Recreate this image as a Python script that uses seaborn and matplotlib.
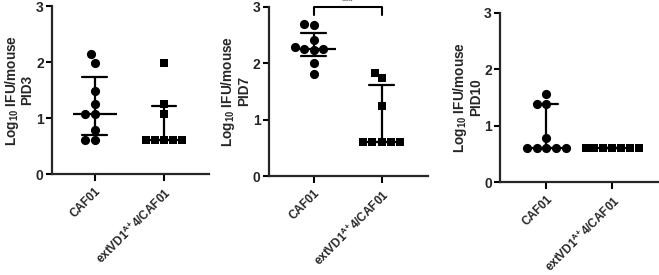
"""
Log10 IFU/mouse at PID3, PID7 and PID10 for two vaccine groups,
scatter with median and interquartile range.
"""
import warnings
import numpy as np
import pandas as pd
import matplotlib
matplotlib.use("Agg")
import matplotlib.pyplot as plt
import seaborn as sns

warnings.filterwarnings("ignore")

groups = ["CAF01", r"extVD1$^{\mathbf{A}{+}}$4/CAF01"]
days = ["PID3", "PID7", "PID10"]

pid3_caf01 = [2.14, 1.99, 1.48, 1.26, 1.08, 1.08, 0.78, 0.60, 0.60]
pid3_ext = [1.98, 1.26, 1.08, 0.60, 0.60, 0.60, 0.60, 0.60]
pid7_caf01 = [2.69, 2.67, 2.42, 2.26, 2.28, 2.24, 2.26, 2.00, 1.81]
pid7_ext = [1.83, 1.73, 1.25, 0.60, 0.60, 0.60, 0.60, 0.60]
pid10_caf01 = [1.56, 1.38, 1.38, 0.79, 0.60, 0.60, 0.60, 0.60, 0.60]
pid10_ext = [0.60, 0.60, 0.60, 0.60, 0.60, 0.60, 0.60, 0.60]

panel_data = [(pid3_caf01, pid3_ext), (pid7_caf01, pid7_ext), (pid10_caf01, pid10_ext)]

# axes rectangles in figure fractions (left, bottom, width, height)
rects = [(0.079, 0.367, 0.238, 0.611),
         (0.408, 0.360, 0.241, 0.615),
         (0.759, 0.338, 0.240, 0.615)]
xlims = [(-0.62, 1.65), (-0.66, 1.68), (-0.70, 1.70)]


def iqr(x):
    return (np.percentile(x, 25, method="weibull"),
            np.percentile(x, 75, method="weibull"))


def main():
    sns.set_style("ticks")
    plt.rcParams["font.family"] = ["Liberation Sans", "DejaVu Sans"]
    plt.rcParams["font.weight"] = "bold"
    plt.rcParams["mathtext.fontset"] = "custom"
    plt.rcParams["mathtext.bf"] = "Liberation Sans:bold"
    plt.rcParams["mathtext.rm"] = "Liberation Sans:bold"
    plt.rcParams["mathtext.default"] = "bf"

    fig = plt.figure(figsize=(6.59, 2.75), dpi=100)

    for i, (day, (caf, ext)) in enumerate(zip(days, panel_data)):
        ax = fig.add_axes(rects[i])
        df = pd.DataFrame({
            "group": [groups[0]] * len(caf) + [groups[1]] * len(ext),
            "value": caf + ext,
        })

        # individual mice
        sns.swarmplot(data=df[df.group == groups[0]], x="group", y="value",
                      order=groups, marker="o", color="black", size=6.6, ax=ax)
        sns.swarmplot(data=df[df.group == groups[1]], x="group", y="value",
                      order=groups, marker="s", color="black", size=6.2, ax=ax)

        # median with interquartile range
        sns.pointplot(data=df, x="group", y="value", order=groups,
                      estimator=np.median, errorbar=iqr, color="black",
                      linestyle="none", marker="_", markersize=31,
                      markeredgewidth=1.6, capsize=0.36,
                      err_kws={"linewidth": 1.6}, ax=ax)

        ax.set_ylim(0, 3)
        ax.set_xlim(*xlims[i])
        ax.set_yticks([0, 1, 2, 3])
        ax.set_yticklabels(["0", "1", "2", "3"], fontsize=10, fontweight="bold")
        ax.set_xticks([0, 1])
        ax.set_xticklabels(groups, rotation=45, ha="right",
                           rotation_mode="anchor", fontsize=8.5, fontweight="bold")
        ax.set_xlabel("")
        ax.set_ylabel("Log$_{10}$ IFU/mouse\n" + day, fontsize=9.8,
                      fontweight="bold", labelpad=1, linespacing=1.0)
        ax.tick_params(axis="both", width=1.5, length=4, color="black")
        ax.tick_params(axis="y", pad=2)
        ax.tick_params(axis="x", length=5, pad=3)
        for side in ["left", "bottom"]:
            ax.spines[side].set_linewidth(1.6)
        sns.despine(ax=ax)

        if day == "PID7":
            ax.plot([0, 0, 1, 1], [2.86, 3.0, 3.0, 2.86], color="black",
                    linewidth=1.5, clip_on=False)
            ax.text(0.5, 3.0, "***", ha="center", va="bottom", fontsize=7,
                    color="#555555", clip_on=False)

    fig.savefig("out.png", dpi=100)


if __name__ == "__main__":
    main()
